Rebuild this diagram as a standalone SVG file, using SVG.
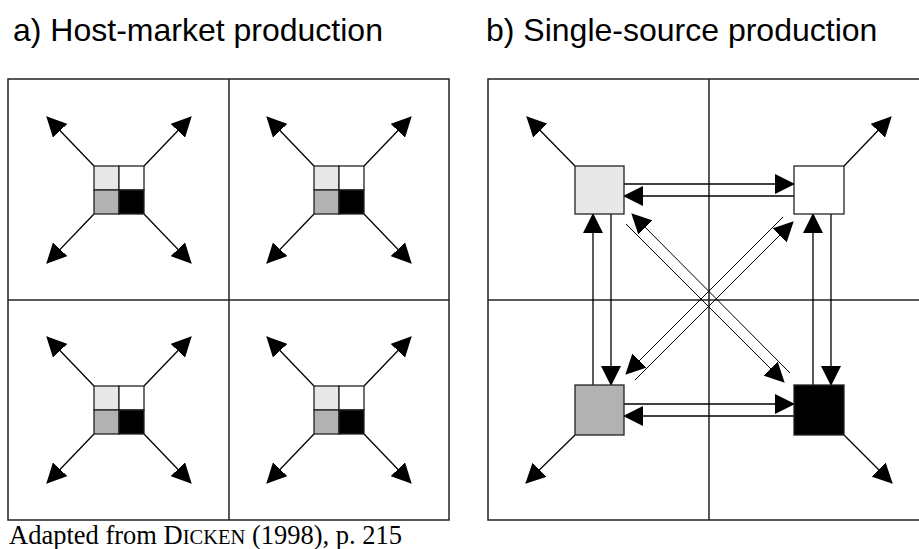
<svg xmlns="http://www.w3.org/2000/svg" width="919" height="549" viewBox="0 0 919 549">
<style>
.frame{fill:none;stroke:#222;stroke-width:1.5}
.grid{stroke:#222;stroke-width:1.5}
.sq{stroke:#222;stroke-width:1.3}
.c1{fill:#e8e8e8}.c2{fill:#ffffff}.c3{fill:#b2b2b2}.c4{fill:#000000}
.arr{stroke:#000;stroke-width:1.3;fill:none;marker-end:url(#ah)}
.dia{stroke:#000;stroke-width:1;fill:none}
.dia.a{marker-end:url(#ah)}
.title{font-family:"Liberation Sans",Arial,sans-serif;font-size:32px;fill:#000}
.cap{font-family:"Liberation Serif","Times New Roman",serif;font-size:26.5px;fill:#000}
</style>
<defs>
<marker id="ah" markerUnits="userSpaceOnUse" markerWidth="20" markerHeight="20" refX="19" refY="10" orient="auto" viewBox="0 0 20 20">
<path d="M0,0 L20,10 L0,20 Z" fill="#000"/>
</marker>
<g id="cell4">
<rect class="sq c1" x="-25" y="-24" width="25" height="24"/>
<rect class="sq c2" x="0" y="-24" width="25" height="24"/>
<rect class="sq c3" x="-25" y="0" width="25" height="24"/>
<rect class="sq c4" x="0" y="0" width="25" height="24"/>
</g>
</defs>
<rect width="919" height="549" fill="#fff"/>
<text class="title" x="13" y="41">a) Host-market production</text>
<text class="title" x="486" y="41">b) Single-source production</text>
<text class="cap" x="9" y="544">Adapted from D<tspan font-size="20.5px">ICKEN</tspan> (1998), p. 215</text>

<g id="panel-a">
<rect class="frame" x="8" y="79" width="441" height="441"/>
<line class="grid" x1="229" y1="79" x2="229" y2="520"/>
<line class="grid" x1="8" y1="300" x2="449" y2="300"/>
</g>
<g id="panel-b">
<rect class="frame" x="488" y="79" width="442" height="441"/>
<line class="grid" x1="709" y1="79" x2="709" y2="520"/>
<line class="grid" x1="488" y1="300" x2="930" y2="300"/>
</g>

<g id="connectors">
<!-- panel a outward arrows -->
<line class="arr" x1="94" y1="166" x2="47" y2="117"/>
<line class="arr" x1="144" y1="166" x2="191" y2="117"/>
<line class="arr" x1="94" y1="214" x2="47" y2="263"/>
<line class="arr" x1="144" y1="214" x2="191" y2="263"/>
<line class="arr" x1="314" y1="166" x2="267" y2="117"/>
<line class="arr" x1="364" y1="166" x2="411" y2="117"/>
<line class="arr" x1="314" y1="214" x2="267" y2="263"/>
<line class="arr" x1="364" y1="214" x2="411" y2="263"/>
<line class="arr" x1="94" y1="386" x2="47" y2="337"/>
<line class="arr" x1="144" y1="386" x2="191" y2="337"/>
<line class="arr" x1="94" y1="434" x2="47" y2="483"/>
<line class="arr" x1="144" y1="434" x2="191" y2="483"/>
<line class="arr" x1="314" y1="386" x2="267" y2="337"/>
<line class="arr" x1="364" y1="386" x2="411" y2="337"/>
<line class="arr" x1="314" y1="434" x2="267" y2="483"/>
<line class="arr" x1="364" y1="434" x2="411" y2="483"/>
<!-- panel b outward arrows -->
<line class="arr" x1="575" y1="166" x2="527" y2="117"/>
<line class="arr" x1="844" y1="166" x2="891" y2="117"/>
<line class="arr" x1="575" y1="435" x2="526" y2="483"/>
<line class="arr" x1="844" y1="435" x2="892" y2="483"/>
<!-- horizontal exchanges -->
<line class="arr" x1="624" y1="184" x2="794" y2="184"/>
<line class="arr" x1="794" y1="196" x2="624" y2="196"/>
<line class="arr" x1="624" y1="404" x2="794" y2="404"/>
<line class="arr" x1="794" y1="416" x2="624" y2="416"/>
<!-- vertical exchanges -->
<line class="arr" x1="593" y1="385" x2="593" y2="214"/>
<line class="arr" x1="611" y1="214" x2="611" y2="385"/>
<line class="arr" x1="813" y1="385" x2="813" y2="214"/>
<line class="arr" x1="831" y1="214" x2="831" y2="385"/>
<!-- diagonal exchanges -->
<line class="dia a" x1="626" y1="224" x2="784" y2="382"/>
<line class="dia a" x1="790" y1="373" x2="632" y2="214"/>
<line class="dia a" x1="783" y1="217" x2="626" y2="374"/>
<line class="dia a" x1="635" y1="380" x2="793" y2="222"/>
</g>

<g id="a-node-tl"><use href="#cell4" x="119" y="190"/></g>
<g id="a-node-tr"><use href="#cell4" x="339" y="190"/></g>
<g id="a-node-bl"><use href="#cell4" x="119" y="410"/></g>
<g id="a-node-br"><use href="#cell4" x="339" y="410"/></g>

<g id="b-node-tl"><rect class="sq c1" x="575" y="166" width="49" height="48"/></g>
<g id="b-node-tr"><rect class="sq c2" x="794" y="166" width="50" height="48"/></g>
<g id="b-node-bl"><rect class="sq c3" x="575" y="385" width="49" height="50"/></g>
<g id="b-node-br"><rect class="sq c4" x="794" y="385" width="50" height="50"/></g>
</svg>
